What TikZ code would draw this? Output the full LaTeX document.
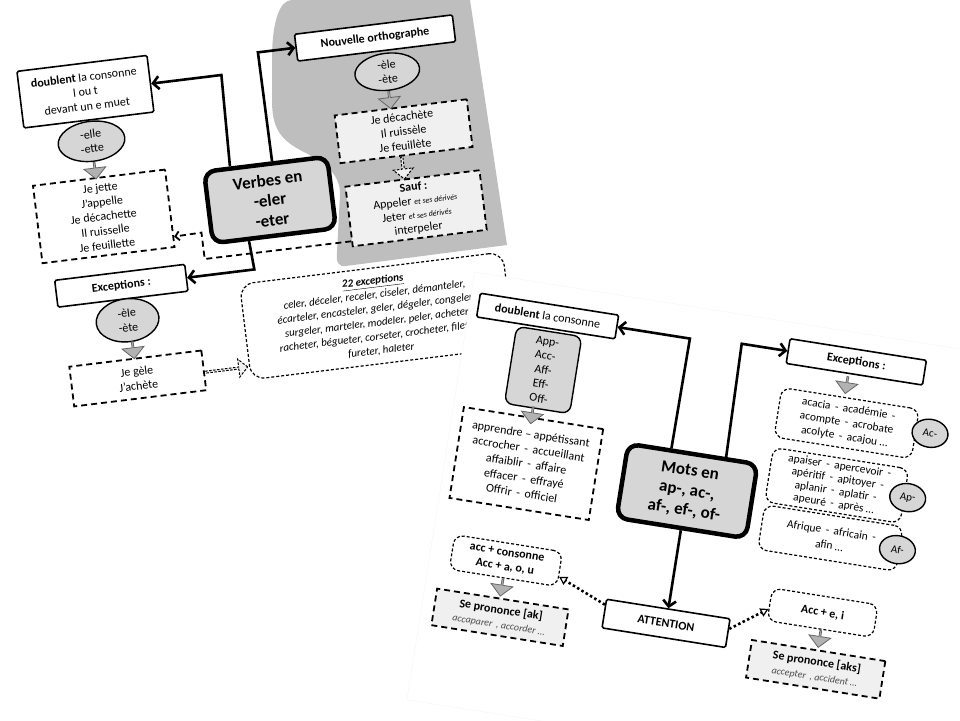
\documentclass[tikz,border=0pt]{standalone}
\usepackage{fontspec}
\setmainfont{Carlito}
\usetikzlibrary{arrows.meta,shapes.geometric,shapes.arrows}

\definecolor{boxgray}{RGB}{214,214,214}
\definecolor{blobgray}{RGB}{190,190,190}
\definecolor{softgray}{RGB}{240,240,240}

\tikzset{
  every node/.style={align=center, inner sep=1pt, font=\fontsize{12}{14.5}\selectfont},
  titlebox/.style={draw, line width=1.6pt, fill=white, rounded corners=1.5pt},
  mainbox/.style={draw, line width=4.5pt, fill=boxgray, rounded corners=11pt,
    font=\fontsize{17}{20}\selectfont\bfseries},
  dashbox/.style={draw, line width=1.8pt, dash pattern=on 6pt off 4pt, fill=white},
  softbox/.style={dashbox, fill=softgray},
  roundbox/.style={draw, line width=1.2pt, dash pattern=on 3pt off 2pt, rounded corners=9pt},
  prefbox/.style={draw, line width=1.4pt, fill=boxgray, rounded corners=8pt},
  oval/.style={ellipse, draw, line width=1.4pt, fill=boxgray, inner sep=0pt},
  fatarrow/.style={single arrow, draw=black!60, line width=0.8pt, fill=black!30,
    minimum width=22pt, minimum height=17pt, single arrow head extend=4.5pt,
    inner sep=0pt, shape border rotate=270},
  hollowarrow/.style={single arrow, draw, line width=1pt, dash pattern=on 2.5pt off 1.5pt,
    fill=softgray, inner sep=0pt, single arrow head extend=4pt},
  conn/.style={line width=2.6pt, -{Straight Barb[length=6pt,width=13pt]}},
  dashconn/.style={line width=1.8pt, dash pattern=on 6pt off 4pt, -{Straight Barb[length=4pt,width=9pt]}},
  dotconn/.style={line width=2.6pt, dash pattern=on 2.5pt off 2.5pt,
    -{Triangle[open,length=8pt,width=9pt,line width=1.2pt]}}
}

\begin{document}
\begin{tikzpicture}[x=1pt,y=1pt]
\useasboundingbox (0,0) rectangle (960,-720);

\fill[blobgray] (272,-60) .. controls (272,-20) and (280,0) .. (292,0) -- (470,0) -- (507,-245)
  -- (346,-266) .. controls (338,-267) and (336,-262) .. (337,-252) -- (340,-195)
  .. controls (341,-172) and (320,-160) .. (300,-150) .. controls (278,-138) and (272,-125) .. (272,-100) -- cycle;

\begin{scope}[shift={(270,-200)}, rotate=7, transform shape]
\node[mainbox, minimum width=124pt, minimum height=72pt] (verbes) at (0,0) {Verbes en\\-eler\\-eter};
\node[titlebox, minimum width=159pt, minimum height=27pt] (nouv) at (124,148) {\textbf{Nouvelle orthographe}};
\node[oval, minimum width=65pt, minimum height=37pt] (ell2) at (132,113) {-èle\\-ète};
\node[softbox, minimum width=133pt, minimum height=48pt] (decach) at (141,52) {Je décachète\\Il ruissèle\\Je feuillète};
\node[softbox, minimum width=135pt, minimum height=60pt, font=\fontsize{12}{14}\selectfont] (sauf) at (144,-26)
  {\textbf{Sauf :}\\Appeler {\fontsize{8}{9}\selectfont\itshape et ses dérivés}\\Jeter {\fontsize{8}{9}\selectfont\itshape et ses dérivés}\\interpeler};
\node[titlebox, minimum width=131pt, minimum height=57pt] (doub1) at (-170,130) {\textbf{doublent} la consonne\\l ou t\\devant un e muet};
\node[oval, minimum width=67pt, minimum height=40pt] (ell1) at (-170,80) {-elle\\-ette};
\node[dashbox, minimum width=133pt, minimum height=78pt] (jette) at (-167,4) {Je jette\\J'appelle\\Je décachette\\Il ruisselle\\Je feuillette};
\node[titlebox, minimum width=131pt, minimum height=27pt] (exc1) at (-158,-67) {\textbf{Exceptions :}};
\node[oval, minimum width=63pt, minimum height=43pt] (ell3) at (-156,-102) {-èle\\-ète};
\node[dashbox, minimum width=133pt, minimum height=40pt] (gele) at (-153,-161) {Je gèle\\J'achète};
\node[roundbox, rounded corners=14pt, minimum width=265pt, minimum height=96pt,
  font=\fontsize{11}{14}\selectfont\itshape] (exc22) at (92,-128)
  {\textbf{\underline{22 exceptions}}\\celer, déceler, receler, ciseler, démanteler,\\écarteler, encasteler, geler, dégeler, congeler,\\surgeler, marteler, modeler, peler, acheter,\\racheter, bégueter, corseter, crocheter, fileter,\\fureter, haleter};
\node[fatarrow] (a1) at (-170,51) {};
\node[fatarrow] (a2) at (131,85) {};
\node[fatarrow] (a3) at (-154,-132) {};
\node[hollowarrow, shape border rotate=270, minimum height=22pt, minimum width=20pt] (h1) at (136,16) {};
\node[hollowarrow, minimum height=42pt, minimum width=18pt] (h2) at (-64,-163) {};
\coordinate (ka) at (-33,130);
\coordinate (kb) at (6,148);
\coordinate (kc) at (-24,-67);
\coordinate (kd1) at (-72,-50.6);
\coordinate (kd2) at (-72,-24);
\draw[conn] (verbes.133) -- (ka) -- (doub1);
\draw[conn] (verbes.80) -- (kb) -- (nouv);
\draw[conn] (verbes.236) -- (kc) -- (exc1);
\draw[dashconn] (sauf.200) -- (kd1) -- (kd2) -- (jette.-23);
\end{scope}

\begin{scope}[shift={(687,-491)}, rotate=-9, transform shape]
\draw[black!4, fill=white] (-244,-250) rectangle (330,183);
\node[mainbox, minimum width=131pt, minimum height=75pt] (mots) at (0,0) {Mots en\\ap-, ac-,\\af-, ef-, of-};
\node[titlebox, minimum width=140pt, minimum height=24pt] (doub2) at (-165,151) {\textbf{doublent} la consonne};
\node[prefbox, minimum width=66pt, minimum height=78pt] (pref) at (-161,97) {App-\\Acc-\\Aff-\\Eff-\\Off-};
\node[dashbox, minimum width=141pt, minimum height=92pt, font=\fontsize{12}{15}\selectfont] (appr) at (-163,2)
  {apprendre – appétissant\\accrocher\, - \,accueillant\\affaiblir\, - \,affaire\\effacer\, - \,effrayé\\Offrir\, - \,officiel};
\node[titlebox, minimum width=125pt, minimum height=29pt] (attn) at (0,-134) {\textbf{ATTENTION}};
\node[titlebox, minimum width=138pt, minimum height=25pt] (exc2) at (147,154) {\textbf{Exceptions :}};
\node[roundbox, minimum width=139pt, minimum height=50pt, font=\fontsize{11.5}{14}\selectfont] (ac) at (147,92)
  {acacia\, - \,académie\, -\\acompte\, - \,acrobate\\acolyte\, - \,acajou …};
\node[roundbox, minimum width=137pt, minimum height=55pt, font=\fontsize{11.5}{12.8}\selectfont] (ap) at (147,29)
  {apaiser\, - \,apercevoir\, -\\apéritif\, - \,apitoyer\, -\\aplanir\, - \,aplatir\, -\\apeuré\, - \,après …};
\node[roundbox, minimum width=140pt, minimum height=45pt, font=\fontsize{11.5}{15}\selectfont] (af) at (149,-24)
  {Afrique\, - \,africain\, -\\afin …};
\node[oval, minimum width=36pt, minimum height=28pt, font=\fontsize{11}{12}\selectfont] (eac) at (231,95) {Ac-};
\node[oval, minimum width=36pt, minimum height=28pt, font=\fontsize{11}{12}\selectfont] (eap) at (219,28) {Ap-};
\node[oval, minimum width=36pt, minimum height=28pt, font=\fontsize{11}{12}\selectfont] (eaf) at (217,-25) {Af-};
\node[roundbox, minimum width=109pt, minimum height=35pt] (acc) at (-168,-97) {\textbf{acc + consonne}\\\textbf{Acc + a, o, u}};
\node[softbox, minimum width=133pt, minimum height=37pt] (ak) at (-165,-154)
  {\textbf{Se prononce [ak]}\\{\fontsize{10}{11}\selectfont\itshape\color{black!70} accaparer\, , accorder …}};
\node[roundbox, minimum width=107pt, minimum height=33pt] (acci) at (153,-99) {\textbf{Acc + e, i}};
\node[softbox, minimum width=135pt, minimum height=38pt] (aks) at (155,-156)
  {\textbf{Se prononce [aks]}\\{\fontsize{10}{11}\selectfont\itshape\color{black!70} accepter\, , accident …}};
\node[fatarrow] (b1) at (-165,51) {};
\node[fatarrow] (b2) at (141,130) {};
\node[fatarrow] (b3) at (-168,-124) {};
\node[fatarrow] (b4) at (154,-125) {};
\coordinate (ke) at (-21,151);
\coordinate (kf) at (31,154);
\draw[conn] (mots.119) -- (ke) -- (doub2);
\draw[conn] (mots.50) -- (kf) -- (exc2);
\draw[conn] (mots) -- (attn);
\draw[dotconn] (attn.172) -- (acc.-8);
\draw[dotconn] (attn.4) -- (acci.185);
\end{scope}
\end{tikzpicture}
\end{document}
